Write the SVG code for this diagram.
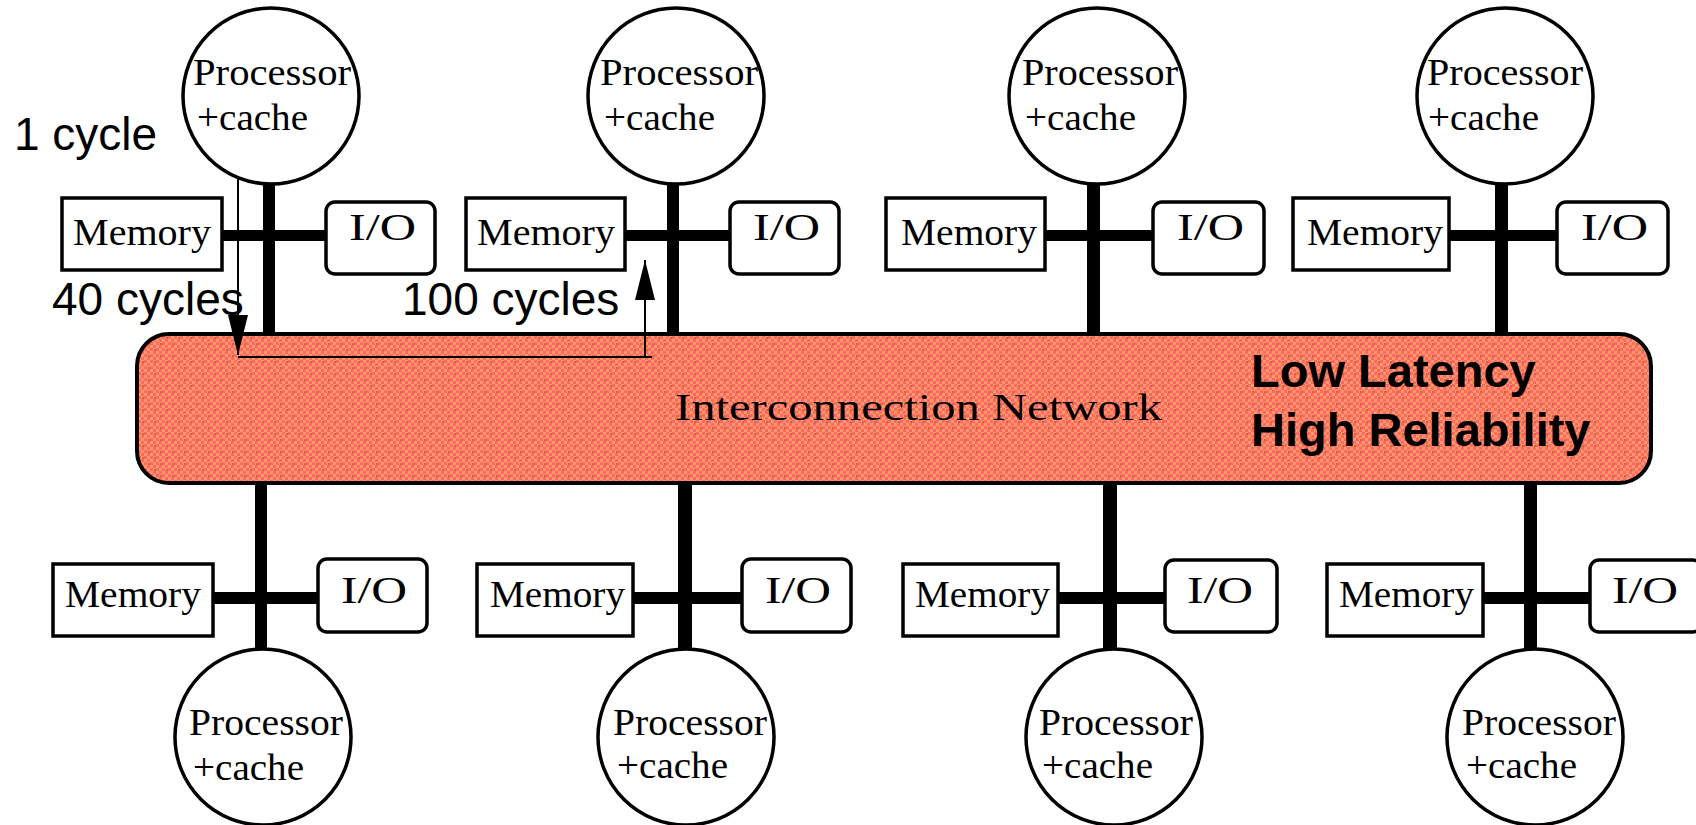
<svg xmlns="http://www.w3.org/2000/svg" width="1696" height="825" viewBox="0 0 1696 825">
<defs>
<pattern id="dither" width="12" height="12" patternUnits="userSpaceOnUse">
<rect width="12" height="12" fill="#FF9966"/>
<rect x="0" y="0" width="3" height="3" fill="#FF6666"/>
<rect x="6" y="0" width="3" height="3" fill="#FF6666"/>
<rect x="3" y="3" width="3" height="3" fill="#FF6666"/>
<rect x="9" y="3" width="3" height="3" fill="#FF6666"/>
<rect x="0" y="6" width="3" height="3" fill="#FF6666"/>
<rect x="6" y="6" width="3" height="3" fill="#FF6666"/>
<rect x="3" y="9" width="3" height="3" fill="#FF6666"/>
<rect x="9" y="9" width="3" height="3" fill="#FF6666"/>
<rect x="4" y="7" width="2" height="2" fill="#CC6633"/>
<rect x="10" y="1" width="2" height="2" fill="#CC6633"/>
</pattern>
<marker id="arr" markerUnits="userSpaceOnUse" markerWidth="42" markerHeight="22" viewBox="0 0 42 22" refX="41" refY="11" orient="auto">
<path d="M1,1 L41,11 L1,21 Z" fill="#000"/>
</marker>
</defs>
<style>
.proc{fill:#fff;stroke:#000;stroke-width:3.5}
.mem{fill:#fff;stroke:#000;stroke-width:3.5}
.io{fill:#fff;stroke:#000;stroke-width:3.5}
.bus{fill:#000}
.bm{font-family:"Liberation Serif","Times New Roman",serif;font-size:38px;fill:#000}
.lbl{font-family:"Liberation Sans",Arial,sans-serif;font-size:46px;fill:#000}
.bold{font-family:"Liberation Sans",Arial,sans-serif;font-size:47px;font-weight:bold;fill:#000}
.thin{stroke:#000;stroke-width:2;fill:none}
</style>
<rect width="1696" height="825" fill="#fff"/>

<g id="connectors">
<rect class="bus" x="263" y="184" width="12" height="150"/>
<rect class="bus" x="222" y="230" width="104" height="11"/>
<rect class="bus" x="667" y="180" width="12" height="154"/>
<rect class="bus" x="625" y="230" width="105" height="11"/>
<rect class="bus" x="1087" y="184" width="13" height="150"/>
<rect class="bus" x="1045" y="230" width="108" height="11"/>
<rect class="bus" x="1495" y="184" width="13" height="150"/>
<rect class="bus" x="1449" y="230" width="108" height="11"/>
<rect class="bus" x="255" y="482" width="12" height="168"/>
<rect class="bus" x="213" y="592" width="105" height="12"/>
<rect class="bus" x="678" y="482" width="14" height="168"/>
<rect class="bus" x="633" y="592" width="109" height="12"/>
<rect class="bus" x="1103" y="482" width="14" height="168"/>
<rect class="bus" x="1058" y="592" width="107" height="12"/>
<rect class="bus" x="1524" y="482" width="13" height="168"/>
<rect class="bus" x="1483" y="592" width="107" height="12"/>
</g>

<g id="network">
<rect x="137" y="334" width="1514" height="149" rx="32" ry="32" fill="url(#dither)" stroke="#000" stroke-width="4"/>
<text class="bm" x="675" y="420" font-size="50" textLength="487" lengthAdjust="spacingAndGlyphs">Interconnection Network</text>
<text class="bold" x="1251" y="387">Low Latency</text>
<text class="bold" x="1251" y="446">High Reliability</text>
</g>

<g id="latency">
<line class="thin" x1="238" y1="157" x2="238" y2="355" marker-end="url(#arr)"/>
<line class="thin" x1="238" y1="357" x2="652" y2="357"/>
<line class="thin" x1="645" y1="357" x2="645" y2="260" marker-end="url(#arr)"/>
<text class="lbl" x="14" y="150">1 cycle</text>
<text class="lbl" x="52" y="315">40 cycles</text>
<text class="lbl" x="402" y="315">100 cycles</text>
</g>

<g id="proc-t1"><circle class="proc" cx="271" cy="96" r="88"/>
<text class="bm" x="193" y="85" textLength="158" lengthAdjust="spacingAndGlyphs">Processor</text>
<text class="bm" x="197" y="130" textLength="111" lengthAdjust="spacingAndGlyphs">+cache</text></g>
<g id="mem-t1"><rect class="mem" x="62" y="198" width="160" height="72"/>
<text class="bm" x="73" y="245" textLength="138" lengthAdjust="spacingAndGlyphs">Memory</text></g>
<g id="io-t1"><rect class="io" x="326" y="202" width="109" height="72" rx="9"/>
<text class="bm" x="349" y="240" textLength="67" lengthAdjust="spacingAndGlyphs">I/O</text></g>

<g id="proc-t2"><circle class="proc" cx="676" cy="96" r="88"/>
<text class="bm" x="600" y="85" textLength="158" lengthAdjust="spacingAndGlyphs">Processor</text>
<text class="bm" x="604" y="130" textLength="111" lengthAdjust="spacingAndGlyphs">+cache</text></g>
<g id="mem-t2"><rect class="mem" x="466" y="198" width="159" height="72"/>
<text class="bm" x="477" y="245" textLength="138" lengthAdjust="spacingAndGlyphs">Memory</text></g>
<g id="io-t2"><rect class="io" x="730" y="202" width="109" height="72" rx="9"/>
<text class="bm" x="753" y="240" textLength="67" lengthAdjust="spacingAndGlyphs">I/O</text></g>

<g id="proc-t3"><circle class="proc" cx="1097" cy="96" r="88"/>
<text class="bm" x="1022" y="85" textLength="156" lengthAdjust="spacingAndGlyphs">Processor</text>
<text class="bm" x="1025" y="130" textLength="111" lengthAdjust="spacingAndGlyphs">+cache</text></g>
<g id="mem-t3"><rect class="mem" x="886" y="198" width="159" height="72"/>
<text class="bm" x="901" y="245" textLength="136" lengthAdjust="spacingAndGlyphs">Memory</text></g>
<g id="io-t3"><rect class="io" x="1153" y="202" width="111" height="72" rx="9"/>
<text class="bm" x="1177" y="240" textLength="67" lengthAdjust="spacingAndGlyphs">I/O</text></g>

<g id="proc-t4"><circle class="proc" cx="1505" cy="96" r="88"/>
<text class="bm" x="1427" y="85" textLength="156" lengthAdjust="spacingAndGlyphs">Processor</text>
<text class="bm" x="1428" y="130" textLength="111" lengthAdjust="spacingAndGlyphs">+cache</text></g>
<g id="mem-t4"><rect class="mem" x="1293" y="198" width="156" height="72"/>
<text class="bm" x="1307" y="245" textLength="136" lengthAdjust="spacingAndGlyphs">Memory</text></g>
<g id="io-t4"><rect class="io" x="1557" y="202" width="111" height="72" rx="9"/>
<text class="bm" x="1581" y="240" textLength="67" lengthAdjust="spacingAndGlyphs">I/O</text></g>

<g id="proc-b1"><circle class="proc" cx="263" cy="737" r="88"/>
<text class="bm" x="189" y="735" textLength="154" lengthAdjust="spacingAndGlyphs">Processor</text>
<text class="bm" x="193" y="780" textLength="111" lengthAdjust="spacingAndGlyphs">+cache</text></g>
<g id="mem-b1"><rect class="mem" x="53" y="564" width="160" height="72"/>
<text class="bm" x="65" y="607" textLength="136" lengthAdjust="spacingAndGlyphs">Memory</text></g>
<g id="io-b1"><rect class="io" x="318" y="559" width="109" height="73" rx="9"/>
<text class="bm" x="341" y="603" textLength="66" lengthAdjust="spacingAndGlyphs">I/O</text></g>

<g id="proc-b2"><circle class="proc" cx="686" cy="737" r="88"/>
<text class="bm" x="613" y="735" textLength="154" lengthAdjust="spacingAndGlyphs">Processor</text>
<text class="bm" x="617" y="778" textLength="111" lengthAdjust="spacingAndGlyphs">+cache</text></g>
<g id="mem-b2"><rect class="mem" x="477" y="564" width="156" height="72"/>
<text class="bm" x="490" y="607" textLength="135" lengthAdjust="spacingAndGlyphs">Memory</text></g>
<g id="io-b2"><rect class="io" x="742" y="559" width="109" height="73" rx="9"/>
<text class="bm" x="765" y="603" textLength="66" lengthAdjust="spacingAndGlyphs">I/O</text></g>

<g id="proc-b3"><circle class="proc" cx="1114" cy="737" r="88"/>
<text class="bm" x="1039" y="735" textLength="154" lengthAdjust="spacingAndGlyphs">Processor</text>
<text class="bm" x="1042" y="778" textLength="111" lengthAdjust="spacingAndGlyphs">+cache</text></g>
<g id="mem-b3"><rect class="mem" x="903" y="564" width="155" height="72"/>
<text class="bm" x="915" y="607" textLength="135" lengthAdjust="spacingAndGlyphs">Memory</text></g>
<g id="io-b3"><rect class="io" x="1165" y="560" width="112" height="72" rx="9"/>
<text class="bm" x="1187" y="603" textLength="66" lengthAdjust="spacingAndGlyphs">I/O</text></g>

<g id="proc-b4"><circle class="proc" cx="1535" cy="737" r="88"/>
<text class="bm" x="1462" y="735" textLength="154" lengthAdjust="spacingAndGlyphs">Processor</text>
<text class="bm" x="1466" y="778" textLength="111" lengthAdjust="spacingAndGlyphs">+cache</text></g>
<g id="mem-b4"><rect class="mem" x="1327" y="564" width="156" height="72"/>
<text class="bm" x="1339" y="607" textLength="135" lengthAdjust="spacingAndGlyphs">Memory</text></g>
<g id="io-b4"><rect class="io" x="1590" y="560" width="112" height="72" rx="9"/>
<text class="bm" x="1612" y="603" textLength="66" lengthAdjust="spacingAndGlyphs">I/O</text></g>
</svg>
